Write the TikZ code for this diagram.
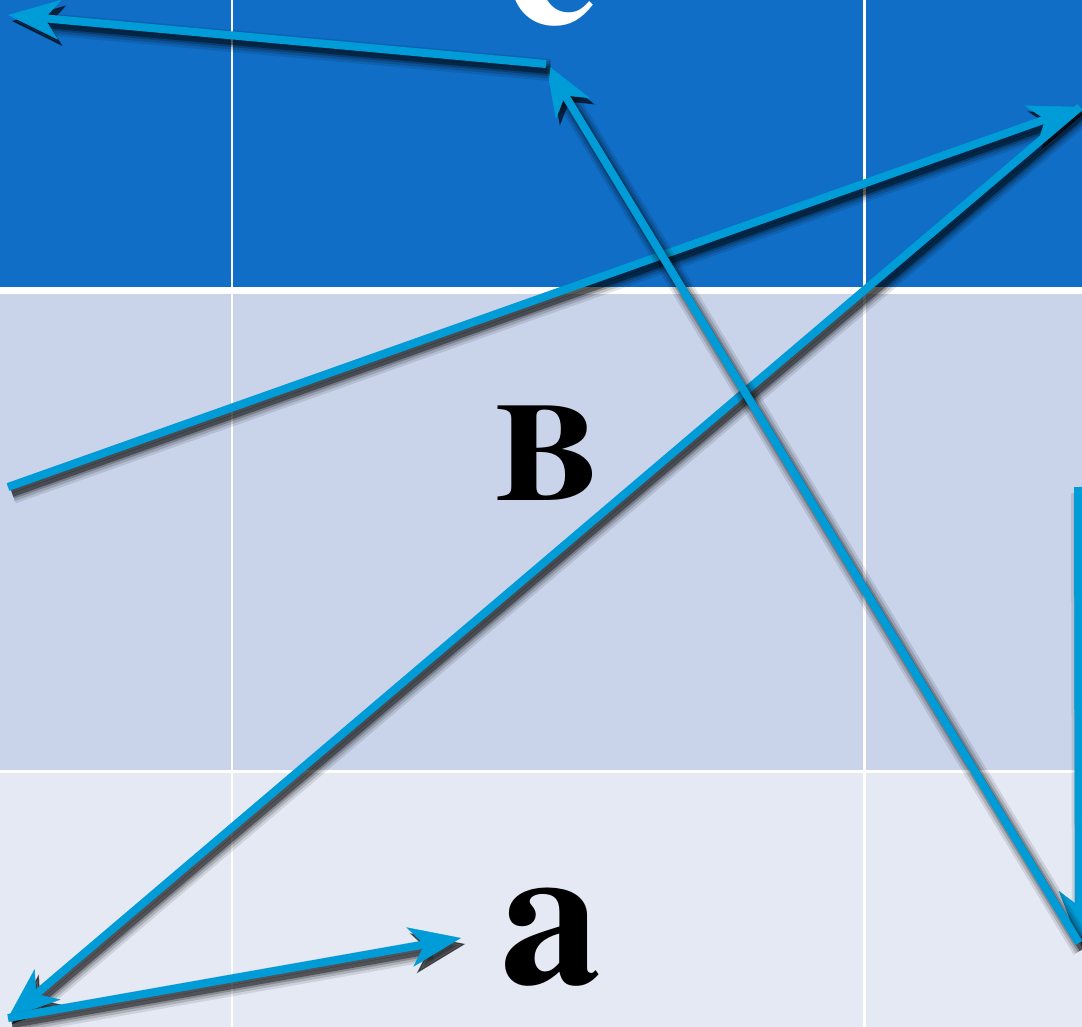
\documentclass[tikz,border=0pt]{standalone}
\usepackage{fontspec}
\newfontfamily\tnrbold{texgyretermes-bold.otf}
\usetikzlibrary{arrows.meta}
\definecolor{topband}{HTML}{106EC6}
\definecolor{midband}{HTML}{C9D4EA}
\definecolor{botband}{HTML}{E4E9F4}
\definecolor{arrowc}{HTML}{009CD8}
\tikzset{
  head/.style={-{Stealth[length=52pt,width=40pt,inset=15pt,line width=0.5pt]}},
  conn/.style={draw=arrowc, line width=8pt, head, arrowc},
  shad/.style 2 args={draw=black, fill=black, line width=#1, opacity=#2,
    -{Stealth[length=52pt,width=40pt,inset=15pt,line width=#1-7pt]},
    transform canvas={shift={(4,6)}}},
  bigletter/.style={font=\tnrbold\fontsize{202}{202}\selectfont, anchor=base, inner sep=0pt},
  midletter/.style={font=\tnrbold\fontsize{140}{140}\selectfont, anchor=base, inner sep=0pt},
  gridline/.style={draw=white}
}
\newcommand\arrowseg[2]{%
  \draw[shad={22pt}{0.1}] (#1) -- (#2);
  \draw[shad={17pt}{0.15}] (#1) -- (#2);
  \draw[shad={12pt}{0.22}] (#1) -- (#2);
  \draw[shad={8pt}{0.4}] (#1) -- (#2);
  \draw[conn] (#1) -- (#2);
}
\begin{document}
\begin{tikzpicture}[x=1pt,y=-1pt]
\useasboundingbox (0,0) rectangle (1082,1027);
\clip (0,0) rectangle (1082,1027);
\fill[white] (0,0) rectangle (1082,1027);
% bands
\fill[topband] (0,-10) rectangle (1082,287);
\fill[midband] (0,294) rectangle (1082,769.5);
\fill[botband] (0,772.5) rectangle (1082,1037);
% vertical grid lines
\draw[gridline, line width=2.5pt] (232,-10) -- (232,1037);
\draw[gridline, line width=3pt] (864.5,-10) -- (864.5,1037);
% letters
\node[bigletter, text=white] (c) at (551,24) {c};
\node[midletter, text=black] (B) at (548,500) {\scalebox{1.12}[1]{B}};
\node[bigletter, text=black] (a) at (551,983) {a};
% path A
\coordinate (a1) at (8,487);
\coordinate (a2) at (1080,107);
\coordinate (a3) at (8,1018);
\coordinate (a4) at (461,938);
% path B
\coordinate (b1) at (1078,487);
\coordinate (b2) at (1079,943);
\coordinate (b3) at (546,64);
\coordinate (b4) at (8,15);
\arrowseg{a1}{a2}
\arrowseg{a2}{a3}
\arrowseg{a3}{a4}
\arrowseg{b1}{b2}
\arrowseg{b2}{b3}
\arrowseg{b3}{b4}
\end{tikzpicture}
\end{document}
